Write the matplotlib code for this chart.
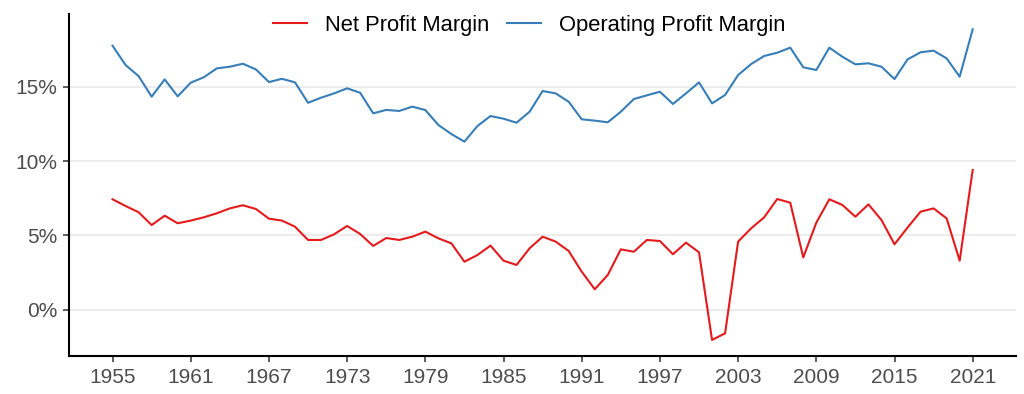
import matplotlib
matplotlib.use("Agg")
import matplotlib.pyplot as plt
from matplotlib.ticker import FuncFormatter

plt.rcParams["font.family"] = ["Liberation Sans", "DejaVu Sans"]

years = list(range(1955, 2022))

net_margin = [
    7.43, 6.98, 6.56, 5.70, 6.33, 5.82, 6.00, 6.22, 6.49, 6.82,
    7.03, 6.78, 6.13, 6.00, 5.59, 4.70, 4.70, 5.08, 5.64, 5.10,
    4.30, 4.83, 4.70, 4.92, 5.26, 4.81, 4.47, 3.24, 3.69, 4.32,
    3.31, 3.02, 4.14, 4.92, 4.59, 3.96, 2.57, 1.39, 2.35, 4.07,
    3.91, 4.70, 4.63, 3.74, 4.52, 3.87, -2.01, -1.57, 4.59, 5.48,
    6.22, 7.45, 7.20, 3.53, 5.86, 7.43, 7.05, 6.26, 7.09, 6.04,
    4.41, 5.53, 6.60, 6.82, 6.15, 3.31, 9.40,
]

operating_margin = [
    17.74, 16.44, 15.70, 14.32, 15.48, 14.34, 15.26, 15.62, 16.22, 16.33,
    16.53, 16.15, 15.30, 15.52, 15.28, 13.91, 14.25, 14.54, 14.88, 14.58,
    13.20, 13.43, 13.36, 13.65, 13.42, 12.42, 11.81, 11.30, 12.35, 13.02,
    12.84, 12.57, 13.31, 14.70, 14.54, 13.98, 12.80, 12.71, 12.60, 13.31,
    14.16, 14.41, 14.65, 13.83, 14.54, 15.28, 13.87, 14.43, 15.77, 16.51,
    17.05, 17.27, 17.61, 16.29, 16.11, 17.61, 17.00, 16.49, 16.56, 16.33,
    15.50, 16.82, 17.30, 17.41, 16.89, 15.66, 18.84,
]

x_ticks = list(range(1955, 2022, 6))
y_ticks = [0, 5, 10, 15]

fig = plt.figure(figsize=(10.24, 3.94), dpi=100)
ax = fig.add_axes([0.0674, 0.0972, 0.9245, 0.8673])

ax.plot(years, net_margin, color="#E41A1C", lw=1.5, label="Net Profit Margin")
ax.plot(years, operating_margin, color="#377EB8", lw=1.5, label="Operating Profit Margin")

ax.set_xlim(1951.66, 2024.3)
ax.set_ylim(-3.07, 19.87)
ax.set_xticks(x_ticks)
ax.set_yticks(y_ticks)
ax.yaxis.set_major_formatter(FuncFormatter(lambda v, p: f"{v:.0f}%"))

ax.grid(axis="y", color="#ebebeb", lw=1.3)
ax.set_axisbelow(True)
for side in ["top", "right"]:
    ax.spines[side].set_visible(False)
for side in ["left", "bottom"]:
    ax.spines[side].set_linewidth(1.5)
    ax.spines[side].set_color("black")

ax.tick_params(axis="both", length=4.5, width=1.1, color="#333333",
               labelsize=15, labelcolor="#4d4d4d", pad=4)

fig.legend(loc="center", bbox_to_anchor=(0.5168, 0.9365), ncol=2, frameon=False,
           fontsize=15.8, handlelength=1.55, handletextpad=0.83, columnspacing=0.81)

fig.savefig("out.png", dpi=100)
